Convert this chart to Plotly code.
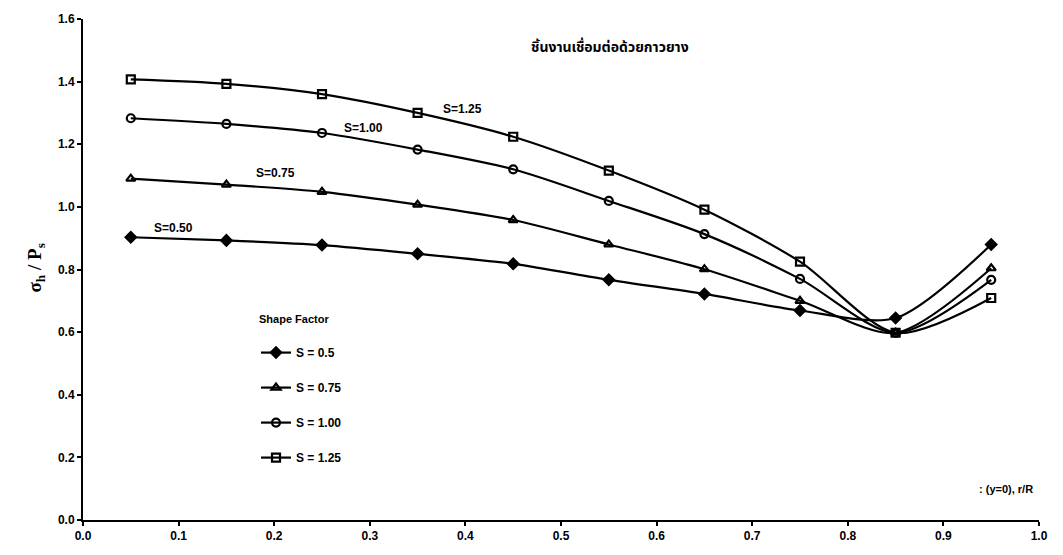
import plotly.graph_objects as go

x_vals = [0.05, 0.15, 0.25, 0.35, 0.45, 0.55, 0.65, 0.75, 0.85, 0.95]
s050 = [0.903, 0.893, 0.878, 0.850, 0.818, 0.767, 0.722, 0.669, 0.645, 0.880]
s075 = [1.090, 1.071, 1.048, 1.007, 0.958, 0.880, 0.801, 0.700, 0.598, 0.804]
s100 = [1.283, 1.265, 1.236, 1.183, 1.120, 1.019, 0.913, 0.770, 0.598, 0.767]
s125 = [1.407, 1.393, 1.360, 1.300, 1.224, 1.116, 0.991, 0.825, 0.598, 0.709]

names = ["S = 0.5", "S = 0.75", "S = 1.00", "S = 1.25"]
series = [s050, s075, s100, s125]
symbols = ["diamond", "triangle-up-open", "circle-open", "square-open"]

curve_labels = ["S=0.50", "S=0.75", "S=1.00", "S=1.25"]
label_x = [0.095, 0.201, 0.293, 0.397]
label_y = [0.933, 1.108, 1.251, 1.311]

tick_x = [0, 0.1, 0.2, 0.3, 0.4, 0.5, 0.6, 0.7, 0.8, 0.9, 1.0]
tick_x_text = ["0.0", "0.1", "0.2", "0.3", "0.4", "0.5", "0.6", "0.7", "0.8", "0.9", "1.0"]
tick_y = [0, 0.2, 0.4, 0.6, 0.8, 1.0, 1.2, 1.4, 1.6]
tick_y_text = ["0.0", "0.2", "0.4", "0.6", "0.8", "1.0", "1.2", "1.4", "1.6"]

title_text = "ชิ้นงานเชื่อมต่อด้วยกาวยาง"
legend_title = "Shape Factor"

W, H = 1063, 555
L, R, T, B = 83, 24, 16, 35
pw, ph = W - L - R, H - T - B

SANS = "Liberation Sans, Arial"
BF = lambda size: dict(family=SANS, size=size, color="black", weight="bold")

fig = go.Figure()
for nm, ys, sym in zip(names, series, symbols):
    fig.add_trace(go.Scatter(
        x=x_vals, y=ys, name=nm, legendgroup=nm,
        mode="lines+markers",
        line=dict(color="black", width=2.2, shape="spline", smoothing=0.8),
        marker=dict(symbol=sym, size=8, color="black",
                    line=dict(color="black", width=2.2)),
    ))

for t, lx, ly in zip(curve_labels, label_x, label_y):
    fig.add_annotation(x=lx, y=ly, text=t, showarrow=False, font=BF(12))

fig.add_annotation(x=(610 - L) / pw, y=(H - B - 32) / ph, xref="paper", yref="paper",
                   text=title_text, showarrow=False,
                   font=dict(family="Noto Sans Thai, Noto Sans, DejaVu Sans", size=14,
                             color="black", weight="bold"))

fig.add_annotation(x=(257 - L) / pw, y=(H - B - 318) / ph, xref="paper", yref="paper",
                   xanchor="left", text=legend_title, showarrow=False, font=BF(11))

fig.add_annotation(x=(1035 - L) / pw, y=(H - B - 497) / ph, xref="paper", yref="paper",
                   xanchor="right", text=": (y=0), r/R", showarrow=False, font=BF(11))

fig.add_annotation(x=(22 - L) / pw, y=(H - B - 267) / ph, xref="paper", yref="paper",
                   text="σ<sub>h</sub> / P<sub>s</sub>", textangle=-90, showarrow=False,
                   font=dict(family="Liberation Serif, Times New Roman", size=19,
                             color="black", weight="bold"))

axis_common = dict(showline=True, linecolor="black", linewidth=2, ticks="outside", ticklen=4,
                   tickcolor="black", tickwidth=2, showgrid=False, zeroline=False,
                   tickfont=BF(12), fixedrange=True)

fig.update_layout(
    width=W, height=H,
    margin=dict(l=L, r=R, t=T, b=B),
    paper_bgcolor="white", plot_bgcolor="white",
    showlegend=True,
    legend=dict(
        x=(256 - L) / pw, y=(H - B - 337) / ph, xanchor="left", yanchor="top",
        font=BF(12),
        tracegroupgap=16, itemwidth=30, bgcolor="rgba(0,0,0,0)",
    ),
    xaxis=dict(range=[0, 1.0], tickvals=tick_x, ticktext=tick_x_text, **axis_common),
    yaxis=dict(range=[0, 1.6], tickvals=tick_y, ticktext=tick_y_text, **axis_common),
)

fig.write_html("out.html")
